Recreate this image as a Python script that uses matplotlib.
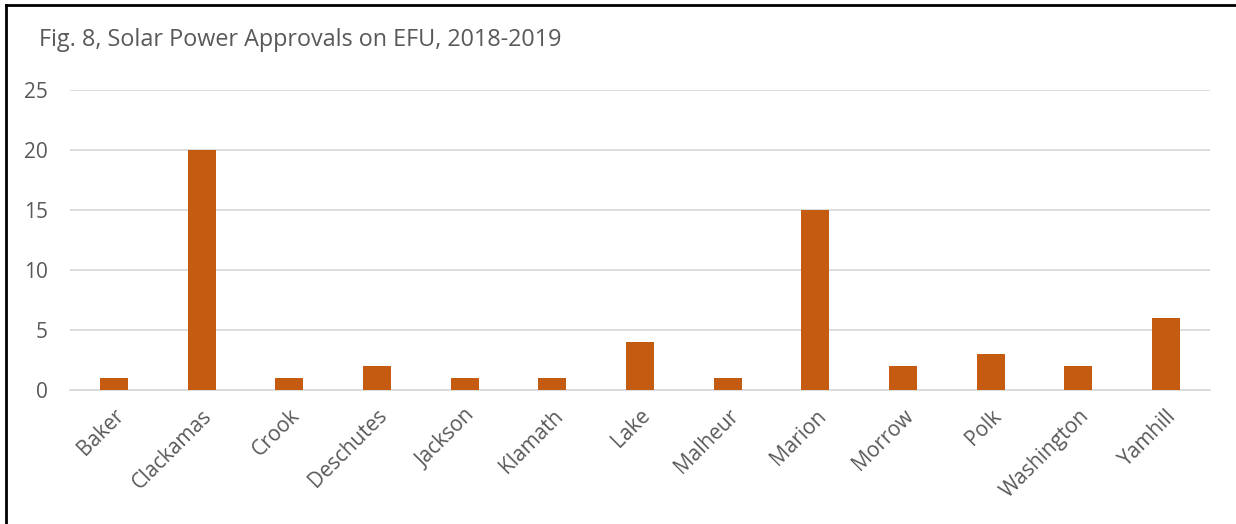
import matplotlib
matplotlib.use('Agg')
import matplotlib.pyplot as plt
from matplotlib.lines import Line2D

# County approvals, 2018-2019
counties = ["Baker", "Clackamas", "Crook", "Deschutes", "Jackson", "Klamath", "Lake",
            "Malheur", "Marion", "Morrow", "Polk", "Washington", "Yamhill"]
approvals = [1, 20, 1, 2, 1, 1, 4, 1, 15, 2, 3, 2, 6]
y_ticks = [0, 5, 10, 15, 20, 25]

plt.rcParams['font.family'] = ['Open Sans', 'DejaVu Sans']
text_col = '#595959'
bar_col = '#C55A11'
grid_col = '#D9D9D9'

W, H = 1236, 524
fig = plt.figure(figsize=(W / 100, H / 100), dpi=100)
ax = fig.add_axes([70 / W, 1 - 390 / H, 1140 / W, 300 / H])

x = list(range(len(counties)))
ax.bar(x, approvals, width=0.32, color=bar_col, zorder=3)

ax.set_xlim(-0.5, len(counties) - 0.5)
ax.set_ylim(0, 25)
ax.set_yticks(y_ticks)
ax.set_yticklabels([str(v) for v in y_ticks], fontsize=15, color=text_col)
ax.set_xticks(x)
ax.set_xticklabels(counties, rotation=45, ha='right', rotation_mode='anchor',
                   fontsize=15, color=text_col)
ax.tick_params(axis='both', length=0)
ax.tick_params(axis='y', pad=16)
ax.tick_params(axis='x', pad=11)
ax.grid(axis='y', color=grid_col, linewidth=1.3, zorder=0)
for s in ['top', 'right', 'left']:
    ax.spines[s].set_visible(False)
ax.spines['bottom'].set_color(grid_col)
ax.spines['bottom'].set_linewidth(1.3)

fig.text(39 / W, 1 - 40 / H, "Fig. 8, Solar Power Approvals on EFU, 2018-2019",
         fontsize=16.8, color=text_col, va='center', ha='left')

# outer frame (left and top edges)
fig.add_artist(Line2D([6 / W, 6 / W], [0, 1 - 5 / H], transform=fig.transFigure,
                      color='black', linewidth=2))
fig.add_artist(Line2D([6 / W, 1], [1 - 5 / H, 1 - 5 / H], transform=fig.transFigure,
                      color='black', linewidth=2))

fig.savefig('out.png', dpi=100)
